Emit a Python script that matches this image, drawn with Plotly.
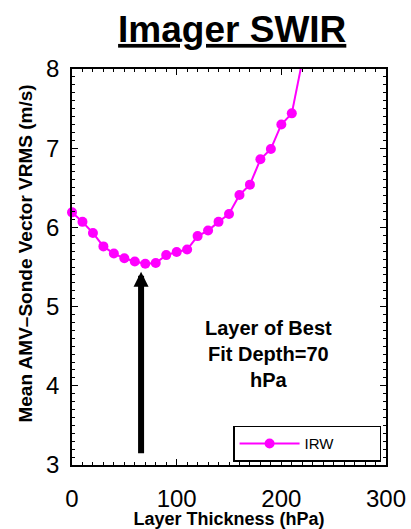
import plotly.graph_objects as go

# ---- data ----
thickness = [0, 10, 20, 30, 40, 50, 60, 70, 80, 90, 100, 110, 120, 130, 140,
             150, 160, 170, 180, 190, 200, 210, 220]
vrms = [6.19, 6.07, 5.93, 5.76, 5.67, 5.61, 5.57, 5.54, 5.55, 5.65, 5.69, 5.72,
        5.89, 5.96, 6.07, 6.17, 6.41, 6.54, 6.86, 6.99, 7.30, 7.44, 8.10]
series_name = "IRW"
best_depth = 70
arrow_x = 66
arrow_tail = 3.13
arrow_tip = 5.44

MAG = "#FF00FF"
FONT = "Liberation Sans, Arial, sans-serif"

fig = go.Figure()
# curve continuing above the frame (clipped)
fig.add_trace(go.Scatter(
    x=thickness[-2:], y=vrms[-2:], mode="lines",
    line=dict(color=MAG, width=2), showlegend=False, hoverinfo="skip"))
# visible points
fig.add_trace(go.Scatter(
    x=thickness[:-1], y=vrms[:-1], mode="lines+markers", name=series_name,
    line=dict(color=MAG, width=2),
    marker=dict(color=MAG, size=10), cliponaxis=False))

fig.add_annotation(
    x=188, y=4.40, xref="x", yref="y", showarrow=False,
    text="<b>Layer of Best<br>Fit Depth=%d<br>hPa</b>" % best_depth,
    font=dict(family=FONT, size=20, color="black"), align="center")

fig.add_annotation(
    x=arrow_x, y=arrow_tip, ax=arrow_x, ay=arrow_tail,
    xref="x", yref="y", axref="x", ayref="y", text="",
    showarrow=True, arrowhead=2, arrowsize=0.5, arrowwidth=6,
    arrowcolor="black", standoff=0, startstandoff=0)

# y-axis title (placed as annotation to match its offset along the axis)
fig.add_annotation(
    x=-0.1465, y=0.534, xref="paper", yref="paper", showarrow=False,
    textangle=-90, xanchor="center", yanchor="middle",
    text="<b>Mean AMV\u2013Sonde Vector VRMS (m/s)</b>",
    font=dict(family=FONT, size=19, color="black"))

axis_common = dict(
    showline=True, linecolor="black", linewidth=1.5, mirror="ticks",
    ticks="inside", ticklen=6, tickcolor="black", tickwidth=1,
    showgrid=False, zeroline=False, automargin=False,
    tickfont=dict(family=FONT, size=24, color="black"),
)

fig.update_xaxes(
    range=[0, 300], tickvals=[0, 100, 200, 300],
    minor=dict(dtick=10, ticks="inside", ticklen=3, tickcolor="black", showgrid=False),
    title=dict(text="<b>Layer Thickness (hPa)</b>",
               font=dict(family=FONT, size=18, color="black"), standoff=10),
    ticklabelstandoff=11,
    **axis_common)
fig.update_yaxes(
    range=[3, 8], tickvals=[3, 4, 5, 6, 7, 8],
    minor=dict(dtick=0.1, ticks="inside", ticklen=3, tickcolor="black", showgrid=False),
    ticklabelstandoff=6,
    **axis_common)

fig.update_layout(
    width=411, height=529,
    margin=dict(l=72, r=25, t=69, b=64, autoexpand=False),
    paper_bgcolor="white", plot_bgcolor="white",
    title=dict(text="<b><u>Imager SWIR</u></b>", x=0.565, xanchor="center",
               y=1 - 29 / 529, yanchor="middle",
               font=dict(family=FONT, size=37, color="black")),
    showlegend=True,
    legend=dict(x=0.513, y=0.0992, xanchor="left", yanchor="top",
                orientation="h",
                bgcolor="white", bordercolor="black", borderwidth=1.5,
                font=dict(family=FONT, size=15, color="black"),
                entrywidth=70, itemwidth=60),
)

fig.write_html("out.html")
